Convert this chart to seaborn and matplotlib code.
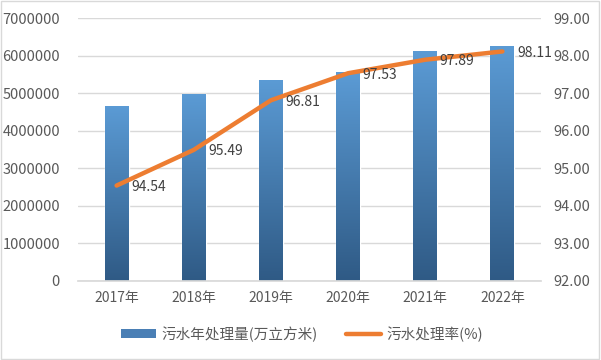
import numpy as np
import pandas as pd
import matplotlib
matplotlib.use("Agg")
import matplotlib.pyplot as plt
import seaborn as sns
from matplotlib.patches import Patch, Rectangle
from matplotlib.lines import Line2D
from matplotlib.colors import LinearSegmentedColormap

# chart data
years = ["2017年", "2018年", "2019年", "2020年", "2021年", "2022年"]
volume = [4660000, 4980000, 5350000, 5560000, 6120000, 6250000]
rate = [94.54, 95.49, 96.81, 97.53, 97.89, 98.11]

bar_name = "污水年处理量(万立方米)"
line_name = "污水处理率(%)"

df = pd.DataFrame({"year": years, "volume": volume, "rate": rate})

sns.set_theme(style="white")
plt.rcParams["font.family"] = ["Noto Sans CJK SC", "DejaVu Sans"]

fig = plt.figure(figsize=(6.01, 3.6), dpi=100)
ax = fig.add_axes([78 / 601, 1 - 281 / 360, 463 / 601, 263 / 360])

grid_c = "#D9D9D9"
text_c = "#595959"
top_c = "#5B9BD5"
bot_c = "#2F5A85"
orange = "#ED7D31"

sns.barplot(data=df, x="year", y="volume", ax=ax, color=top_c, width=0.31,
            saturation=1, zorder=2)
ax.set_ylim(0, 7000000)
ax.set_yticks(np.arange(0, 7000001, 1000000))
ax.set_yticklabels([f"{int(v)}" for v in ax.get_yticks()])
ax.grid(axis="y", color=grid_c, linewidth=1, zorder=0)
ax.set_axisbelow(True)
ax.set_xlabel("")
ax.set_ylabel("")
for s in ["top", "right", "left"]:
    ax.spines[s].set_visible(False)
ax.spines["bottom"].set_color(grid_c)
ax.tick_params(axis="both", length=0, colors=text_c, labelsize=10.5)
ax.tick_params(axis="x", pad=7, labelsize=10)
ax.tick_params(axis="y", pad=13)

# vertical gradient on bars
cmap = LinearSegmentedColormap.from_list("bar", [bot_c, top_c])
grad = np.linspace(0, 1, 256).reshape(-1, 1)
for p in list(ax.patches):
    x0, y0 = p.get_x(), p.get_y()
    w, h = p.get_width(), p.get_height()
    im = ax.imshow(grad, cmap=cmap, origin="lower", aspect="auto",
                   extent=[x0, x0 + w, y0, y0 + h], zorder=2)
    im.set_clip_path(p)
    p.set_facecolor("none")
ax.set_xlim(-0.5, len(years) - 0.5)
ax.set_ylim(0, 7000000)

ax2 = ax.twinx()
sns.lineplot(x=np.arange(len(years)), y=rate, ax=ax2, color=orange,
             linewidth=3.2, zorder=3)
ax2.set_ylim(92, 99)
ax2.set_yticks(np.arange(92, 99.01, 1))
ax2.set_yticklabels([f"{v:.2f}" for v in np.arange(92, 99.01, 1)])
for s in ax2.spines.values():
    s.set_visible(False)
ax2.tick_params(axis="y", length=0, colors=text_c, labelsize=10.5, pad=9)
ax2.set_ylabel("")
for i, v in enumerate(rate):
    ax2.annotate(f"{v:.2f}", (i, v), xytext=(10.5, -1), textcoords="offset points",
                 ha="left", va="center", fontsize=10, color="#404040")

handles = [Patch(facecolor="#4A7FB5", edgecolor="none"),
           Line2D([0], [0], color=orange, linewidth=3.2)]
fig.legend(handles, [bar_name, line_name], loc="center",
           bbox_to_anchor=(302 / 601, 1 - 334 / 360), ncol=2, frameon=False,
           fontsize=10.5, labelcolor=text_c, handlelength=2.4, handleheight=0.6,
           columnspacing=1.9, handletextpad=0.4)

fig.patches.append(Rectangle((0.002, 0.003), 0.995, 0.993, transform=fig.transFigure,
                             fill=False, edgecolor="#D9D9D9", linewidth=1))

fig.savefig("out.png", dpi=100)
